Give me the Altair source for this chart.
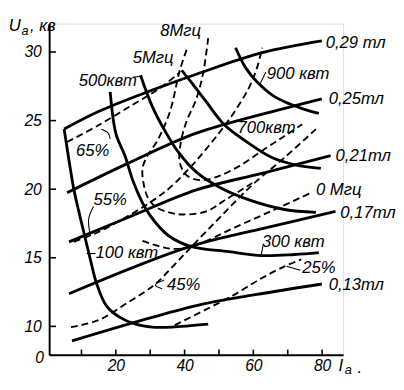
import altair as alt
import pandas as pd

# ---------- magnetic field lines (тл) ----------
B029_x = [4.96, 14.93, 29.18, 43.43, 62.53, 79.91]
B029_y = [24.38, 25.66, 27.09, 28.38, 29.95, 30.81]
B025_x = [5.81, 23.48, 43.43, 71.07, 79.91]
B025_y = [19.74, 21.88, 24.09, 26.02, 26.59]
B021_x = [6.38, 24.91, 43.43, 62.53, 82.48]
B021_y = [16.16, 18.08, 19.95, 21.16, 22.45]
B017_x = [6.38, 41.44, 61.97, 83.90]
B017_y = [12.38, 15.81, 17.09, 18.38]
B013_x = [7.24, 43.43, 60.53, 79.91]
B013_y = [8.95, 11.52, 12.31, 13.09]

# ---------- output power curves (квт) ----------
P100_x = [4.96, 6.38, 7.81, 9.23, 10.66, 12.65, 14.36, 17.21, 21.20, 25.76, 30.61, 36.31, 46.86]
P100_y = [24.38, 22.09, 19.95, 18.38, 16.88, 14.81, 13.16, 11.52, 10.66, 10.16, 9.95, 9.95, 10.16]
P300_x = [18.35, 20.06, 22.63, 24.91, 28.33, 31.46, 35.45, 42.01, 52.84, 62.53, 71.93, 79.05]
P300_y = [27.09, 24.01, 22.45, 20.66, 18.74, 17.59, 16.59, 15.81, 15.45, 15.16, 15.24, 15.38]
P500_x = [27.18, 30.61, 34.31, 38.30, 43.43, 49.99, 58.54, 69.08, 78.20]
P500_y = [28.31, 26.02, 24.24, 22.66, 21.24, 20.16, 19.24, 18.52, 18.31]
P700_x = [39.16, 42.58, 46.28, 51.41, 57.68, 65.38, 72.79, 79.62]
P700_y = [28.66, 27.59, 26.38, 24.74, 23.52, 22.31, 21.74, 21.52]
P900_x = [54.83, 57.68, 61.10, 65.38, 69.08, 74.21, 79.05]
P900_y = [30.31, 28.88, 27.81, 26.88, 26.38, 25.88, 25.52]

# ---------- efficiency contours (%) ----------
E65_x = [5.81, 14.93, 24.91, 32.89, 38.59]
E65_y = [23.44, 24.66, 26.16, 27.38, 28.52]
E55_x = [7.81, 14.93, 24.34, 31.18, 36.31, 43.43, 49.99, 53.98, 58.54, 61.10, 62.53]
E55_y = [16.16, 16.88, 18.16, 19.24, 20.24, 22.09, 24.09, 25.45, 27.31, 28.88, 30.31]
E45_x = [6.95, 14.93, 23.48, 31.18, 36.88, 42.01, 50.56, 59.68, 69.08, 78.20]
E45_y = [9.95, 10.45, 11.74, 13.02, 14.45, 15.81, 18.02, 20.31, 22.31, 24.38]
E25_x = [37.16, 46.28, 53.98, 61.96, 69.08, 73.93]
E25_y = [10.09, 11.24, 12.24, 13.45, 14.38, 14.88]

# ---------- frequency contours (Мгц) ----------
F0_x = [27.76, 32.04, 36.31, 42.01, 54.83, 66.23, 76.77]
F0_y = [16.24, 15.88, 15.66, 15.81, 17.24, 18.52, 19.74]
F5_x = [40.58, 38.59, 35.74, 32.04, 29.18, 27.76, 28.04, 29.18, 31.46, 35.45, 39.73, 46.28, 51.98, 59.68]
F5_y = [30.16, 28.66, 25.66, 23.52, 22.44, 21.52, 20.45, 19.45, 18.74, 18.31, 18.16, 18.38, 19.24, 20.45]
F8_x = [46.86, 45.43, 43.43, 40.58, 38.87, 38.59, 40.58, 44.28, 49.13, 56.26, 63.38, 69.08, 74.21]
F8_y = [31.02, 28.52, 26.59, 24.95, 23.38, 21.95, 21.02, 20.66, 20.88, 21.74, 22.95, 23.88, 24.74]

# ---------- label leaders ----------
L_names = ["l500", "l500", "l900", "l900", "l65", "l65", "l65", "l55", "l55", "l55",
           "l100", "l100", "l300", "l300", "l45", "l45", "l45", "l25", "l25"]
L_x = [24.9, 27.18, 63.6, 61.9, 15.79, 17.78, 18.35, 13.51, 12.08, 12.65,
       11.51, 14.07, 62.81, 62.24, 34.07, 31.46, 33.46, 73.65, 69.65]
L_y = [28.16, 28.24, 28.52, 27.66, 24.37, 24.09, 23.66, 18.74, 17.81, 16.59,
       15.31, 15.31, 15.88, 15.16, 13.39, 13.02, 12.74, 14.09, 14.38]

# ---------- curve labels ----------
lab_text = ["0,29 тл", "0,25тл", "0,21тл", "0,17тл", "0,13тл", "0 Мгц", "25%", "300 квт",
            "45%", "100 квт", "55%", "65%", "700квт", "900 квт", "500квт", "5Мгц", "8Мгц"]
lab_x = [81.05, 81.9, 83.9, 85.3, 81.9, 78.2, 74.2, 62.5,
         34.9, 14.1, 13.5, 8.38, 55.4, 63.9, 9.23, 24.9, 32.9]
lab_y = [30.66, 26.56, 22.38, 18.24, 13.02, 19.95, 14.24, 16.16,
         13.02, 15.31, 19.24, 22.81, 24.45, 28.38, 27.88, 29.59, 31.52]

# axis titles (U_a, кв  and  I_a .)
tit_text = ["U", ", кв", "I", "."]
tit_x = [-11.14, -5.0, 84.8, 90.3]
tit_y = [31.88, 31.88, 7.09, 6.95]
sub_text = ["а", "а"]
sub_x = [-7.45, 86.6]
sub_y = [31.55, 6.78]
zero_text = ["0"]
zero_x = [-2.2]
zero_y = [7.66]

x_ticks = [10, 20, 30, 40, 50, 60, 70, 80]
y_ticks = [10, 15, 20, 25, 30]

XMIN, XMAX = 0.6, 86.1
YMIN, YMAX = 7.93, 32.07

solid = [("B029", B029_x, B029_y), ("B025", B025_x, B025_y), ("B021", B021_x, B021_y),
         ("B017", B017_x, B017_y), ("B013", B013_x, B013_y), ("P100", P100_x, P100_y),
         ("P300", P300_x, P300_y), ("P500", P500_x, P500_y), ("P700", P700_x, P700_y),
         ("P900", P900_x, P900_y)]
dashed = [("E65", E65_x, E65_y), ("E55", E55_x, E55_y), ("E45", E45_x, E45_y),
          ("E25", E25_x, E25_y), ("F0", F0_x, F0_y), ("F5", F5_x, F5_y), ("F8", F8_x, F8_y)]


def long_df(items):
    rows = []
    for name, xs, ys in items:
        for i, (a, b) in enumerate(zip(xs, ys)):
            rows.append({"curve": name, "i": i, "x": a, "y": b})
    return pd.DataFrame(rows)


df_solid = long_df(solid)
df_dashed = long_df(dashed)
df_lead = pd.DataFrame({"curve": L_names, "x": L_x, "y": L_y})
df_lead["i"] = range(len(df_lead))
df_lab = pd.DataFrame({"t": lab_text, "x": lab_x, "y": lab_y})
df_tit = pd.DataFrame({"t": tit_text, "x": tit_x, "y": tit_y})
df_sub = pd.DataFrame({"t": sub_text, "x": sub_x, "y": sub_y})
df_zero = pd.DataFrame({"t": zero_text, "x": zero_x, "y": zero_y})
df_xt = pd.DataFrame({"v": x_ticks})
df_yt = pd.DataFrame({"v": y_ticks})

FONT = "Liberation Sans"
xs = alt.Scale(domain=[XMIN, XMAX], nice=False, zero=False)
ys = alt.Scale(domain=[YMIN, YMAX], nice=False, zero=False)

xax = alt.Axis(values=x_ticks, labelExpr="datum.value % 20 == 0 ? datum.label : ''",
               tickSize=0, grid=False, domainColor="black", domainWidth=2,
               labelFont=FONT, labelFontSize=16, labelFontStyle="italic", labelColor="black",
               labelPadding=3, title=None)
yax = alt.Axis(values=y_ticks, tickSize=0, grid=False, domainColor="black", domainWidth=2,
               labelFont=FONT, labelFontSize=16, labelFontStyle="italic", labelColor="black",
               labelPadding=8, title=None)

base_solid = alt.Chart(df_solid).mark_line(color="black", strokeWidth=2.9,
                                           interpolate="catmull-rom").encode(
    x=alt.X("x:Q", scale=xs, axis=xax),
    y=alt.Y("y:Q", scale=ys, axis=yax),
    detail="curve:N", order="i:Q")

dash = alt.Chart(df_dashed).mark_line(color="black", strokeWidth=1.9, strokeDash=[7, 4],
                                      interpolate="catmull-rom").encode(
    x=alt.X("x:Q", scale=xs), y=alt.Y("y:Q", scale=ys), detail="curve:N", order="i:Q")

lead = alt.Chart(df_lead).mark_line(color="black", strokeWidth=1.1,
                                    interpolate="catmull-rom").encode(
    x=alt.X("x:Q", scale=xs), y=alt.Y("y:Q", scale=ys), detail="curve:N", order="i:Q")

xt = alt.Chart(df_xt).mark_rule(color="black", strokeWidth=1.6).encode(
    x=alt.X("v:Q", scale=xs), y=alt.datum(YMIN), y2=alt.datum(YMIN + 0.38))
yt = alt.Chart(df_yt).mark_rule(color="black", strokeWidth=1.6).encode(
    y=alt.Y("v:Q", scale=ys), x=alt.datum(XMIN), x2=alt.datum(XMIN + 2.0))

labels = alt.Chart(df_lab).mark_text(align="left", baseline="middle", font=FONT, fontSize=17,
                                     fontStyle="italic", color="black").encode(
    x=alt.X("x:Q", scale=xs), y=alt.Y("y:Q", scale=ys), text="t:N")
titles = alt.Chart(df_tit).mark_text(align="left", baseline="middle", font=FONT, fontSize=17,
                                     fontStyle="italic", color="black").encode(
    x=alt.X("x:Q", scale=xs), y=alt.Y("y:Q", scale=ys), text="t:N")
subs = alt.Chart(df_sub).mark_text(align="left", baseline="middle", font=FONT, fontSize=13,
                                   fontStyle="italic", color="black").encode(
    x=alt.X("x:Q", scale=xs), y=alt.Y("y:Q", scale=ys), text="t:N")
zero = alt.Chart(df_zero).mark_text(align="center", baseline="middle", font=FONT, fontSize=16,
                                    fontStyle="italic", color="black").encode(
    x=alt.X("x:Q", scale=xs), y=alt.Y("y:Q", scale=ys), text="t:N")

chart = alt.layer(base_solid, dash, lead, xt, yt, labels, titles, subs, zero).properties(
    width=300, height=338,
    autosize=alt.AutoSizeParams(type="none"),
    padding={"left": 42, "top": 12, "right": 54, "bottom": 32},
).configure_view(stroke=None).configure(background="white")

chart.save("out.html", embed_options={"renderer": "svg", "actions": False})
